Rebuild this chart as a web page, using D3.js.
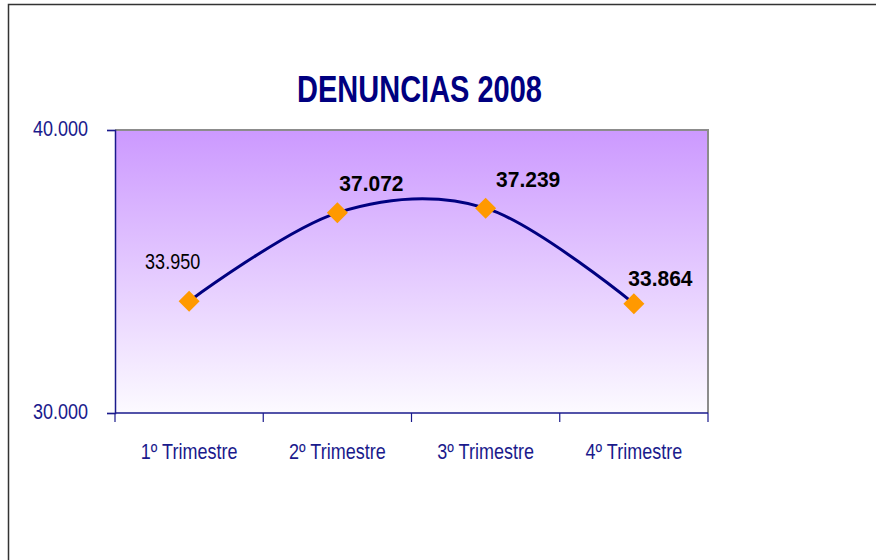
<!DOCTYPE html>
<html>
<head>
<meta charset="utf-8">
<script src="https://cdn.jsdelivr.net/npm/d3@7"></script>
<style>
  html, body { margin: 0; padding: 0; background: #fff; }
  svg { display: block; font-family: "Liberation Sans", Arial, sans-serif; }
</style>
</head>
<body>
<svg id="chart" width="876" height="560"></svg>
<script>
// ---------- data ----------
const categories = ["1º Trimestre", "2º Trimestre", "3º Trimestre", "4º Trimestre"];
const denuncias = [33950, 37072, 37239, 33864];
const valueLabels = ["33.950", "37.072", "37.239", "33.864"];
const labelBold = [false, true, true, true];
const yTicks = [30000, 40000];
const yTickLabels = ["30.000", "40.000"];

// label nudges (layout only)
const labelOffsets = [[-16.5, -32], [34, -22], [42.5, -21], [26.5, -18]];

const svg = d3.select("#chart");
const W = 876, H = 560;
const plot = { left: 115, top: 130, right: 708, bottom: 413 };

// outer frame
svg.append("path")
  .attr("d", `M8.5,${H} V4.5 H${W}`)
  .attr("fill", "none")
  .attr("stroke", "#333")
  .attr("stroke-width", 1.5);

const defs = svg.append("defs");
const grad = defs.append("linearGradient")
  .attr("id", "bg").attr("x1", 0).attr("y1", 0).attr("x2", 0).attr("y2", 1);
grad.append("stop").attr("offset", 0).attr("stop-color", "#CC99FF");
grad.append("stop").attr("offset", 1).attr("stop-color", "#FCFAFF");

const x = d3.scaleBand().domain(categories).range([plot.left, plot.right]);
const y = d3.scaleLinear().domain([30000, 40000]).range([plot.bottom, plot.top]);

// plot area
svg.append("rect")
  .attr("x", plot.left).attr("y", plot.top)
  .attr("width", plot.right - plot.left)
  .attr("height", plot.bottom - plot.top)
  .attr("fill", "url(#bg)");

svg.append("path")
  .attr("d", `M${plot.left},${plot.top} H${plot.right} V${plot.bottom}`)
  .attr("fill", "none")
  .attr("stroke", "#8c8c8c")
  .attr("stroke-width", 2);

const axisColor = "#1a1a8c";

// y axis
const yAxis = svg.append("g")
  .attr("transform", `translate(${plot.left},0)`)
  .call(d3.axisLeft(y).tickValues(yTicks).tickSize(8).tickFormat(""));
yAxis.select(".domain").attr("stroke", axisColor).attr("stroke-width", 1.5);
yAxis.selectAll(".tick line").attr("stroke", axisColor).attr("stroke-width", 1.2);

svg.append("g").selectAll("text")
  .data(yTicks)
  .join("text")
  .attr("transform", (d) => `translate(88,${y(d) + 6}) scale(1,1.22)`)
  .attr("text-anchor", "end")
  .attr("fill", axisColor)
  .style("font-size", "18px")
  .text((d, i) => yTickLabels[i]);

// x axis (ticks between categories)
const xAxis = svg.append("g")
  .attr("transform", `translate(0,${plot.bottom})`);
xAxis.append("line")
  .attr("x1", plot.left).attr("x2", plot.right)
  .attr("stroke", axisColor).attr("stroke-width", 1.5);
const bounds = categories.map((c) => x(c)).concat([x(categories[categories.length - 1]) + x.bandwidth()]);
xAxis.selectAll("line.tk")
  .data(bounds)
  .join("line")
  .attr("class", "tk")
  .attr("x1", (d) => d).attr("x2", (d) => d)
  .attr("y1", 0).attr("y2", 9)
  .attr("stroke", axisColor).attr("stroke-width", 1.2);
xAxis.selectAll("text")
  .data(categories)
  .join("text")
  .attr("transform", (d) => `translate(${x(d) + x.bandwidth() / 2},46) scale(1,1.22)`)
  .attr("text-anchor", "middle")
  .attr("fill", axisColor)
  .style("font-size", "18px")
  .text((d) => d);

// line
const pts = categories.map((c, i) => [x(c) + x.bandwidth() / 2, y(denuncias[i])]);
svg.append("path")
  .attr("d", d3.line().curve(d3.curveCardinal.tension(0))(pts))
  .attr("fill", "none")
  .attr("stroke", "#000080")
  .attr("stroke-width", 3);

// markers
svg.append("g").selectAll("path")
  .data(pts)
  .join("path")
  .attr("d", (d) => `M${d[0]},${d[1] - 10.5} L${d[0] + 10.5},${d[1]} L${d[0]},${d[1] + 10.5} L${d[0] - 10.5},${d[1]} Z`)
  .attr("fill", "#FF9900");

// value labels
svg.append("g").selectAll("text")
  .data(pts)
  .join("text")
  .attr("transform", (d, i) => {
    const [dx, dy] = labelOffsets[i];
    const s = labelBold[i] ? 1.07 : 1.24;
    return `translate(${d[0] + dx},${d[1] + dy}) scale(1,${s})`;
  })
  .attr("text-anchor", "middle")
  .attr("fill", "#000")
  .style("font-size", (d, i) => labelBold[i] ? "21px" : "18px")
  .style("font-weight", (d, i) => labelBold[i] ? "bold" : "normal")
  .text((d, i) => valueLabels[i]);

// title
svg.append("text")
  .attr("transform", "translate(419.5,102) scale(1,1.3)")
  .attr("text-anchor", "middle")
  .attr("fill", "#000080")
  .style("font-size", "29px")
  .style("font-weight", "bold")
  .text("DENUNCIAS 2008");
</script>
</body>
</html>
